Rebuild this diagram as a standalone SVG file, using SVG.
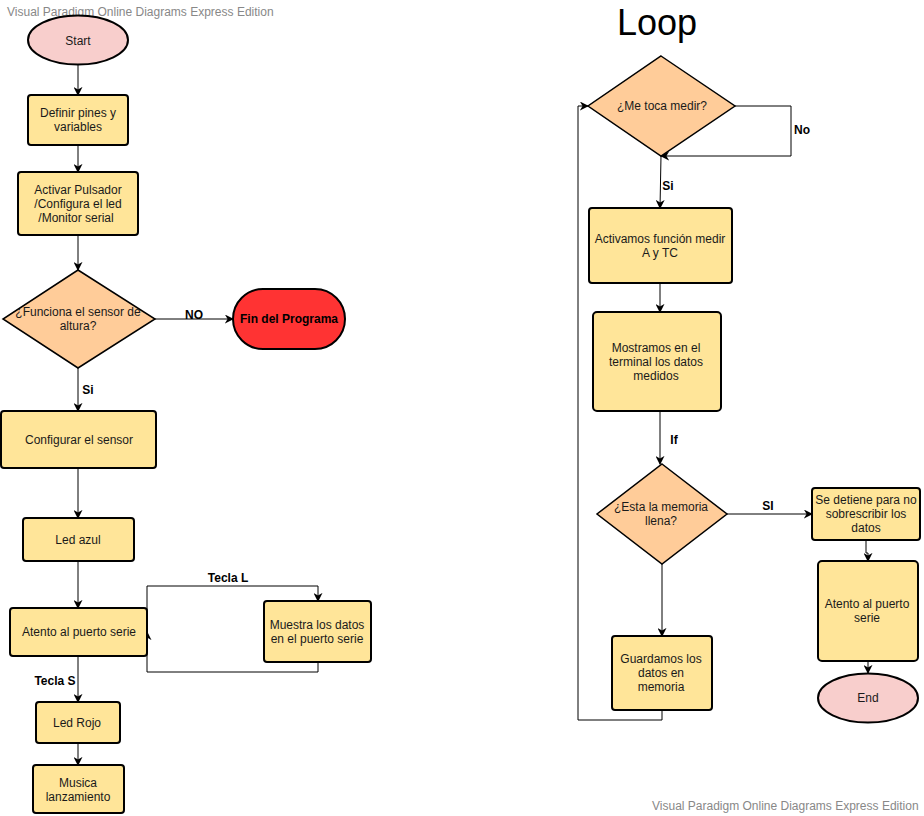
<svg xmlns="http://www.w3.org/2000/svg" width="924" height="816" viewBox="0 0 924 816">
<style>
text{font-family:"Liberation Sans",Arial,sans-serif;font-size:12px;fill:#1a1a1a;text-anchor:middle}
.b{font-weight:bold;fill:#000}
.wm{fill:#888;text-anchor:start}
.box{fill:#ffe599;stroke:#000;stroke-width:2}
.dia{fill:#ffcc99;stroke:#000;stroke-width:1.5}
.ell{fill:#f8cecc;stroke:#000;stroke-width:2}
.c{fill:none;stroke:#000;stroke-width:1}
</style>
<defs>
<marker id="a" viewBox="0 0 10 10" refX="9" refY="5" markerWidth="9" markerHeight="9" orient="auto" markerUnits="userSpaceOnUse">
<path d="M0,0 L10,5 L0,10 L3,5 Z" fill="#000"/>
</marker>
</defs>
<rect width="924" height="816" fill="#fff"/>
<text class="wm" x="7" y="16">Visual Paradigm Online Diagrams Express Edition</text>
<text class="wm" x="652" y="810">Visual Paradigm Online Diagrams Express Edition</text>
<text x="657" y="35" style="font-size:36px;fill:#000">Loop</text>

<g id="connectors">
<path class="c" marker-end="url(#a)" d="M78,65 V95"/>
<path class="c" marker-end="url(#a)" d="M78,145 V172"/>
<path class="c" marker-end="url(#a)" d="M78,235 V270"/>
<path class="c" marker-end="url(#a)" d="M155,319 H233"/>
<text class="b" x="194" y="319">NO</text>
<path class="c" marker-end="url(#a)" d="M78,368 V411"/>
<text class="b" x="88" y="394">Si</text>
<path class="c" marker-end="url(#a)" d="M78,468 V518"/>
<path class="c" marker-end="url(#a)" d="M78,561 V608"/>
<path class="c" marker-end="url(#a)" d="M147,632 V586 H318 V601"/>
<text class="b" x="228" y="582">Tecla L</text>
<path class="c" marker-end="url(#a)" d="M318,662 V672 H147 V632"/>
<path class="c" marker-end="url(#a)" d="M78,656 V702"/>
<text class="b" x="55" y="685">Tecla S</text>
<path class="c" marker-end="url(#a)" d="M78,743 V765"/>

<path class="c" marker-end="url(#a)" d="M735,106 H791 V156 H661"/>
<text class="b" x="802" y="134">No</text>
<path class="c" marker-end="url(#a)" d="M661,156 L660,208"/>
<text class="b" x="668" y="190">Si</text>
<path class="c" marker-end="url(#a)" d="M660,283 V312"/>
<path class="c" marker-end="url(#a)" d="M660,411 V464"/>
<text class="b" x="674" y="444">If</text>
<path class="c" marker-end="url(#a)" d="M727,514 H812"/>
<text class="b" x="768" y="510">SI</text>
<path class="c" marker-end="url(#a)" d="M866,540 V553 H868 V561"/>
<path class="c" marker-end="url(#a)" d="M868,661 V673"/>
<path class="c" marker-end="url(#a)" d="M662,564 V636"/>
<path class="c" marker-end="url(#a)" d="M662,710 V720 H578 V106 H588"/>
</g>

<g id="start"><ellipse class="ell" cx="78" cy="40" rx="50" ry="24.5"/><text x="78" y="45">Start</text></g>
<g id="definir"><rect class="box" x="28" y="95" width="100" height="50" rx="3"/><text x="78" y="117">Definir pines y</text><text x="78" y="131">variables</text></g>
<g id="activar"><rect class="box" x="18" y="172" width="120" height="63" rx="3"/><text x="78" y="194">Activar Pulsador</text><text x="78" y="208">/Configura el led</text><text x="76" y="222">/Monitor serial</text></g>
<g id="funciona"><polygon class="dia" points="78,270 155,319 78,368 3,319"/><text x="78" y="316">¿Funciona el sensor de</text><text x="78" y="330">altura?</text></g>
<g id="fin"><rect x="233" y="289" width="112" height="60" rx="30" fill="#ff3333" stroke="#000" stroke-width="2"/><text class="b" x="289" y="323">Fin del Programa</text></g>
<g id="configurar"><rect class="box" x="1" y="411" width="155" height="57" rx="3"/><text x="79" y="444">Configurar el sensor</text></g>
<g id="ledazul"><rect class="box" x="23" y="518" width="111" height="43" rx="3"/><text x="78" y="544">Led azul</text></g>
<g id="atento"><rect class="box" x="10" y="608" width="137" height="48" rx="3"/><text x="79" y="636">Atento al puerto serie</text></g>
<g id="muestra"><rect class="box" x="264" y="601" width="107" height="61" rx="3"/><text x="317" y="629">Muestra los datos</text><text x="317" y="643">en el puerto serie</text></g>
<g id="ledrojo"><rect class="box" x="36" y="702" width="84" height="41" rx="3"/><text x="77" y="727">Led Rojo</text></g>
<g id="musica"><rect class="box" x="33" y="765" width="91" height="48" rx="3"/><text x="78" y="787">Musica</text><text x="78" y="801">lanzamiento</text></g>

<g id="metoca"><polygon class="dia" points="661,56 735,106 661,156 588,106"/><text x="662" y="110">¿Me toca medir?</text></g>
<g id="activamos"><rect class="box" x="589" y="208" width="143" height="75" rx="3"/><text x="660" y="243">Activamos función medir</text><text x="660" y="257">A y TC</text></g>
<g id="mostramos"><rect class="box" x="593" y="312" width="128" height="99" rx="4"/><text x="656" y="352">Mostramos en el</text><text x="656" y="366">terminal los datos</text><text x="656" y="380">medidos</text></g>
<g id="memoria"><polygon class="dia" points="662,464 727,514 662,564 597,514"/><text x="661" y="511">¿Esta la memoria</text><text x="661" y="525">llena?</text></g>
<g id="detiene"><rect class="box" x="812" y="488" width="108" height="52" rx="3"/><text x="866" y="504">Se detiene para no</text><text x="866" y="518">sobrescribir los</text><text x="866" y="532">datos</text></g>
<g id="atento2"><rect class="box" x="818" y="561" width="100" height="100" rx="4"/><text x="867" y="608">Atento al puerto</text><text x="867" y="622">serie</text></g>
<g id="end"><ellipse class="ell" cx="868" cy="698" rx="50" ry="24.5"/><text x="868" y="702">End</text></g>
<g id="guardamos"><rect class="box" x="612" y="636" width="100" height="74" rx="3"/><text x="661" y="663">Guardamos los</text><text x="661" y="677">datos en</text><text x="661" y="691">memoria</text></g>
</svg>
